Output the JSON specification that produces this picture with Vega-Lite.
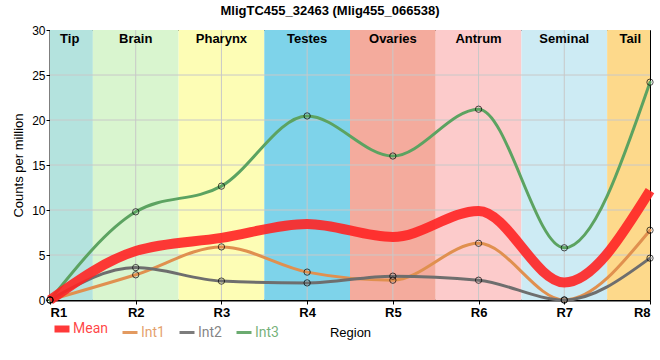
{
  "$schema": "https://vega.github.io/schema/vega-lite/v6.json",
  "autosize": "none",
  "width": 600,
  "height": 270,
  "padding": {"left": 50, "top": 30, "right": 10, "bottom": 60},
  "background": "white",
  "title": {"text": "MligTC455_32463 (Mlig455_066538)", "font": "Liberation Sans", "fontSize": 13, "fontWeight": "bold", "offset": 4, "baseline": "bottom", "dx": -20, "dy": 11, "color": "black"},
  "config": {
    "view": {"stroke": "black", "strokeWidth": 1},
    "axis": {"grid": false, "domainColor": "black", "domainWidth": 2, "tickColor": "black", "tickSize": 4, "labelColor": "black", "titleColor": "black", "labelFont": "Liberation Sans", "titleFont": "Liberation Sans"},
    "axisX": {"labelFontSize": 13, "labelFontWeight": "bold", "labelPadding": 2, "titleFontSize": 13, "titleFontWeight": "normal", "titlePadding": 7},
    "axisY": {"labelFontSize": 12, "labelPadding": 1, "titleFontSize": 13, "titleFontWeight": "normal", "titlePadding": 6}
  },
  "datasets": {
    "bands": [
      {"region": "Tip", "x0": 1, "x1": 1.5, "mid": 1.23},
      {"region": "Brain", "x0": 1.5, "x1": 2.5, "mid": 2},
      {"region": "Pharynx", "x0": 2.5, "x1": 3.5, "mid": 3},
      {"region": "Testes", "x0": 3.5, "x1": 4.5, "mid": 4},
      {"region": "Ovaries", "x0": 4.5, "x1": 5.5, "mid": 5},
      {"region": "Antrum", "x0": 5.5, "x1": 6.5, "mid": 6},
      {"region": "Seminal", "x0": 6.5, "x1": 7.5, "mid": 7},
      {"region": "Tail", "x0": 7.5, "x1": 8, "mid": 7.77}
    ],
    "vgrid": [{"g": 2}, {"g": 3}, {"g": 4}, {"g": 5}, {"g": 6}, {"g": 7}],
    "hgrid": [{"g": 5}, {"g": 10}, {"g": 15}, {"g": 20}, {"g": 25}],
    "series": [
      {"pos": 1, "series": "Mean", "value": 0},
      {"pos": 2, "series": "Mean", "value": 5.45},
      {"pos": 3, "series": "Mean", "value": 6.9},
      {"pos": 4, "series": "Mean", "value": 8.45},
      {"pos": 5, "series": "Mean", "value": 7.0},
      {"pos": 6, "series": "Mean", "value": 9.9},
      {"pos": 7, "series": "Mean", "value": 1.95},
      {"pos": 8, "series": "Mean", "value": 12.15},
      {"pos": 1, "series": "Int1", "value": 0},
      {"pos": 2, "series": "Int1", "value": 2.8},
      {"pos": 3, "series": "Int1", "value": 5.9},
      {"pos": 4, "series": "Int1", "value": 3.1},
      {"pos": 5, "series": "Int1", "value": 2.2},
      {"pos": 6, "series": "Int1", "value": 6.3},
      {"pos": 7, "series": "Int1", "value": 0},
      {"pos": 8, "series": "Int1", "value": 7.75},
      {"pos": 1, "series": "Int2", "value": 0},
      {"pos": 2, "series": "Int2", "value": 3.6},
      {"pos": 3, "series": "Int2", "value": 2.1},
      {"pos": 4, "series": "Int2", "value": 1.9},
      {"pos": 5, "series": "Int2", "value": 2.65},
      {"pos": 6, "series": "Int2", "value": 2.2},
      {"pos": 7, "series": "Int2", "value": 0},
      {"pos": 8, "series": "Int2", "value": 4.65},
      {"pos": 1, "series": "Int3", "value": 0},
      {"pos": 2, "series": "Int3", "value": 9.8},
      {"pos": 3, "series": "Int3", "value": 12.65},
      {"pos": 4, "series": "Int3", "value": 20.45},
      {"pos": 5, "series": "Int3", "value": 16.0},
      {"pos": 6, "series": "Int3", "value": 21.2},
      {"pos": 7, "series": "Int3", "value": 5.8},
      {"pos": 8, "series": "Int3", "value": 24.2}
    ]
  },
  "layer": [
    {
      "data": {"name": "bands"},
      "mark": {"type": "rect"},
      "encoding": {
        "x": {"field": "x0", "type": "quantitative", "scale": {"domain": [1, 8], "nice": false, "zero": false},
          "axis": {"title": "Region", "values": [1, 2, 3, 4, 5, 6, 7, 8], "labelExpr": "'R' + datum.value"}},
        "x2": {"field": "x1"},
        "fill": {"field": "region", "type": "nominal", "legend": null,
          "scale": {"domain": ["Tip", "Brain", "Pharynx", "Testes", "Ovaries", "Antrum", "Seminal", "Tail"],
                    "range": ["#b4e3de", "#d9f5cf", "#fdfdb5", "#7ed3ea", "#f4ab9d", "#fccbcb", "#cdebf4", "#fdd98b"]}}
      }
    },
    {
      "data": {"name": "vgrid"},
      "mark": {"type": "rule", "color": "#c8c8c8", "strokeWidth": 1},
      "encoding": {"x": {"field": "g", "type": "quantitative",
        "axis": {"title": "Region", "values": [1, 2, 3, 4, 5, 6, 7, 8], "labelExpr": "'R' + datum.value"}}}
    },
    {
      "data": {"name": "hgrid"},
      "mark": {"type": "rule", "color": "#c8c8c8", "strokeWidth": 1},
      "encoding": {"y": {"field": "g", "type": "quantitative", "scale": {"domain": [0, 30], "nice": false},
        "axis": {"title": "Counts per million", "values": [0, 5, 10, 15, 20, 25, 30]}}}
    },
    {
      "data": {"name": "bands"},
      "mark": {"type": "text", "baseline": "top", "dy": 3, "font": "Liberation Sans", "fontSize": 13, "fontWeight": "bold", "color": "black"},
      "encoding": {
        "x": {"field": "mid", "type": "quantitative",
          "axis": {"title": "Region", "values": [1, 2, 3, 4, 5, 6, 7, 8], "labelExpr": "'R' + datum.value"}},
        "y": {"datum": 30, "type": "quantitative",
          "axis": {"title": "Counts per million", "values": [0, 5, 10, 15, 20, 25, 30]}},
        "text": {"field": "region"}
      }
    },
    {
      "data": {"name": "series"},
      "transform": [{"filter": "datum.series != 'Mean'"}],
      "mark": {"type": "line", "interpolate": "monotone", "strokeWidth": 3, "strokeCap": "round"},
      "encoding": {
        "x": {"field": "pos", "type": "quantitative",
          "axis": {"title": "Region", "values": [1, 2, 3, 4, 5, 6, 7, 8], "labelExpr": "'R' + datum.value"}},
        "y": {"field": "value", "type": "quantitative",
          "axis": {"title": "Counts per million", "values": [0, 5, 10, 15, 20, 25, 30]}},
        "color": {"field": "series", "type": "nominal",
          "scale": {"domain": ["Mean", "Int1", "Int2", "Int3"], "range": ["#ff2424", "#e0904f", "#6e6e6e", "#5ca361"]},
          "legend": {"title": null, "orient": "none", "legendX": 5, "legendY": 292, "direction": "horizontal", "padding": 0,
            "symbolType": "stroke", "symbolSize": 225, "symbolStrokeWidth": {"expr": "datum.value == 'Mean' ? 7 : 3"},
            "labelFont": "Roboto", "labelFontSize": 14, "labelColor": {"expr": "scale('color', datum.value)"}, "labelOpacity": 0.85,
            "labelOffset": 4, "columnPadding": 8}},
        "detail": {"field": "series"}
      }
    },
    {
      "data": {"name": "series"},
      "transform": [{"filter": "datum.series == 'Mean'"}],
      "mark": {"type": "line", "interpolate": "monotone", "strokeWidth": 10, "opacity": 0.9},
      "encoding": {
        "x": {"field": "pos", "type": "quantitative",
          "axis": {"title": "Region", "values": [1, 2, 3, 4, 5, 6, 7, 8], "labelExpr": "'R' + datum.value"}},
        "y": {"field": "value", "type": "quantitative",
          "axis": {"title": "Counts per million", "values": [0, 5, 10, 15, 20, 25, 30]}},
        "color": {"field": "series", "type": "nominal"}
      }
    },
    {
      "data": {"name": "series"},
      "transform": [{"filter": "datum.series != 'Mean'"}],
      "mark": {"type": "point", "shape": "circle", "filled": false, "stroke": "black", "strokeWidth": 1, "size": 40},
      "encoding": {
        "x": {"field": "pos", "type": "quantitative",
          "axis": {"title": "Region", "values": [1, 2, 3, 4, 5, 6, 7, 8], "labelExpr": "'R' + datum.value"}},
        "y": {"field": "value", "type": "quantitative",
          "axis": {"title": "Counts per million", "values": [0, 5, 10, 15, 20, 25, 30]}}
      }
    }
  ]
}
